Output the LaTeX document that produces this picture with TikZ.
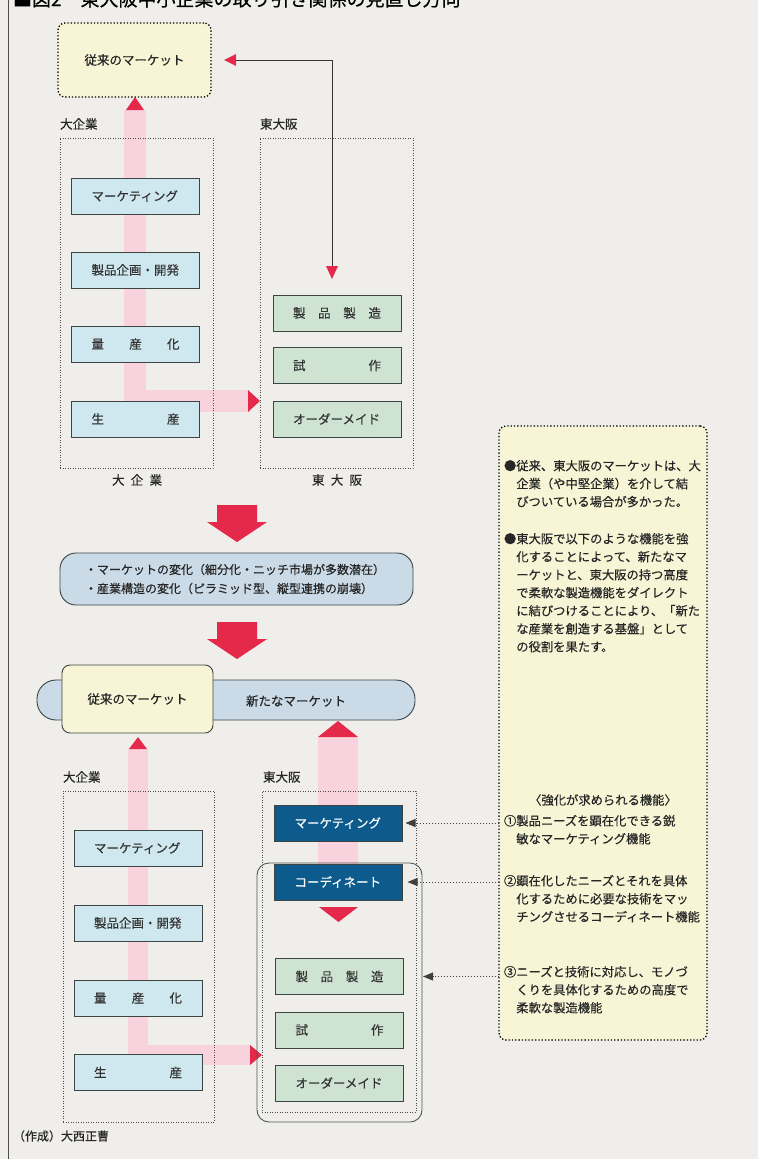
\documentclass[tikz,border=0pt]{standalone}
\usepackage{fontspec}
\setmainfont{Noto Sans CJK JP}[FakeBold=0.35]
\usetikzlibrary{arrows.meta}
\definecolor{bg}{HTML}{EFEEEA}
\definecolor{lblue}{HTML}{CFE7EE}
\definecolor{lgreen}{HTML}{CFE3D3}
\definecolor{dblue}{HTML}{0D5A8C}
\definecolor{pinkband}{HTML}{F8D2DC}
\definecolor{redtri}{HTML}{E5294A}
\definecolor{lyellow}{HTML}{F7F5D6}
\definecolor{pillblue}{HTML}{CADBE7}
\definecolor{edge}{HTML}{3C4444}
\newcommand\spr[1]{\hbox to 88pt{#1}}
\newcommand\fsz[2]{\fontsize{#1}{#2}\selectfont}
\begin{document}
\begin{tikzpicture}[x=1pt,y=-1pt,
  every node/.style={inner sep=0pt, outer sep=0pt},
  txt/.style={font=\fsz{12.5}{15}, text=black!85},
  rtxt/.style={font=\fsz{12.3}{18}, text=black!85, align=left, anchor=north west},
  fbox/.style={draw=edge, line width=0.9pt, minimum width=128pt, minimum height=36pt, font=\fsz{12.5}{15}, text=black!80},
  bluebox/.style={fbox, fill=lblue},
  greenbox/.style={fbox, fill=lgreen},
  darkbox/.style={fbox, fill=dblue, text=white},
  dotbox/.style={draw=black!70, line width=0.7pt, dash pattern=on 0.9pt off 1.6pt},
  heavydot/.style={draw=black, line width=1.3pt, dash pattern=on 1.3pt off 2pt, rounded corners=7pt},
  band/.style={draw=pinkband},
  tri/.style={fill=redtri},
  conn/.style={draw=black!80, line width=0.8pt},
  dotarrow/.style={draw=black!75, line width=0.9pt, dash pattern=on 1pt off 2pt, -{Triangle[length=10pt,width=8pt]}},
]
\useasboundingbox (0,0) rectangle (758,1159);
\fill[bg] (0,0) rectangle (758,1159);
\draw[line width=1pt, black!70] (8,0) -- (8,1159);
\begin{scope}
\clip (0,0) rectangle (758,1159);
\node[anchor=base west, font=\fsz{19}{22}] (title) at (13,6) {■図2　東大阪中小企業の取り引き関係の見直し方向};
\end{scope}

% ---------- upper part ----------
\draw[band, line width=22pt] (248,401) -| (135,110);
\fill[tri] (126,110) -- (144,110) -- (135,97) -- cycle;
\fill[tri] (248,390) -- (248,412) -- (260,401) -- cycle;

\node[heavydot, fill=lyellow, minimum width=153pt, minimum height=74pt, txt] (mktA) at (134.5,60) {従来のマーケット};
\coordinate (tA) at (236,60);
\coordinate (tB) at (332,266);
\draw[conn] (tA) -| (tB);
\fill[tri] (236,54) -- (236,66) -- (224,60) -- cycle;
\fill[tri] (326,266) -- (338,266) -- (332,279) -- cycle;

\node[txt, anchor=west] (labA1) at (60,124) {大企業};
\node[txt, anchor=west] (labA2) at (260,124) {東大阪};
\node[dotbox, minimum width=153pt, minimum height=330pt] (contA1) at (136.5,303) {};
\node[dotbox, minimum width=153pt, minimum height=330pt] (contA2) at (336.5,303) {};

\node[bluebox] (a1) at (135.5,196) {\spr{マーケティング}};
\node[bluebox] (a2) at (135.5,270) {\spr{製品企画・開発}};
\node[bluebox] (a3) at (135.5,344) {\spr{量\hfil 産\hfil 化}};
\node[bluebox] (a4) at (135.5,419) {\spr{生\hfil 産}};
\node[greenbox] (b1) at (337,313) {\spr{製\hfil 品\hfil 製\hfil 造}};
\node[greenbox] (b2) at (337,365.5) {\spr{試\hfil 作}};
\node[greenbox] (b3) at (337,419) {\spr{オーダーメイド}};

\node[txt] (capA1) at (137,480) {\hbox to 50pt{大\hfil 企\hfil 業}};
\node[txt] (capA2) at (337,480) {\hbox to 50pt{東\hfil 大\hfil 阪}};

% ---------- big arrows and change box ----------
\fill[tri] (217,505) -- (257,505) -- (257,522) -- (267,522) -- (237,542) -- (207,522) -- (217,522) -- cycle;
\node[draw=edge, line width=0.9pt, fill=pillblue, rounded corners=16pt, minimum width=353pt, minimum height=52pt,
      text width=303pt, inner xsep=25pt, align=left, font=\fsz{12}{19}, text=black!85] (change) at (236.5,579)
      {・マーケットの変化（細分化・ニッチ市場が多数潜在）\\・産業構造の変化（ピラミッド型、縦型連携の崩壊）};
\fill[tri] (217,622) -- (257,622) -- (257,639) -- (267,639) -- (237,659) -- (207,639) -- (217,639) -- cycle;

% ---------- market bar ----------
\node[draw=edge, line width=0.9pt, fill=pillblue, rounded corners=19pt, minimum width=378pt, minimum height=40pt] (pill) at (226,700) {};
\node[txt] (newmkt) at (296,701) {新たなマーケット};
\node[draw=edge, line width=0.9pt, fill=lyellow, rounded corners=8pt, minimum width=151pt, minimum height=68pt, txt] (mktB) at (137.5,699) {従来のマーケット};

% ---------- lower part ----------
\draw[band, line width=20pt] (250,1055) -| (138,749);
\fill[tri] (129,749) -- (147,749) -- (138,737) -- cycle;
\fill[tri] (250,1045) -- (250,1065) -- (262,1055) -- cycle;
\draw[band, line width=40pt] (338,737) -- (338,870);
\fill[tri] (318,737) -- (358,737) -- (338,721) -- cycle;

\node[txt, anchor=west] (labB1) at (63,777) {大企業};
\node[txt, anchor=west] (labB2) at (263,777) {東大阪};
\node[dotbox, minimum width=151pt, minimum height=331pt] (contB1) at (138.5,956.5) {};
\node[dotbox, minimum width=154pt, minimum height=321pt] (contB2) at (339,951.5) {};
\node[draw=edge!90, line width=0.9pt, rounded corners=12pt, minimum width=165pt, minimum height=259pt] (frameB) at (339.5,992.5) {};

\node[bluebox] (c1) at (138,848) {\spr{マーケティング}};
\node[bluebox] (c2) at (138,923) {\spr{製品企画・開発}};
\node[bluebox] (c3) at (138,998) {\spr{量\hfil 産\hfil 化}};
\node[bluebox] (c4) at (138,1072.5) {\spr{生\hfil 産}};

\node[darkbox] (d1) at (338.5,823) {\spr{マーケティング}};
\node[darkbox] (d2) at (338.5,882) {\spr{コーディネート}};
\fill[tri] (319,907) -- (358,907) -- (338.5,922) -- cycle;
\node[greenbox] (e1) at (339.5,976.5) {\spr{製\hfil 品\hfil 製\hfil 造}};
\node[greenbox] (e2) at (339.5,1030) {\spr{試\hfil 作}};
\node[greenbox] (e3) at (339.5,1083) {\spr{オーダーメイド}};

% ---------- right note ----------
\node[heavydot, fill=lyellow, minimum width=208pt, minimum height=614pt] (rbox) at (603,733) {};
\node[rtxt] (p1) at (504,460) {●従来、東大阪のマーケットは、大\\\hspace*{1em}企業（や中堅企業）を介して結\\\hspace*{1em}びついている場合が多かった。};
\node[rtxt] (p2) at (504,533) {●東大阪で以下のような機能を強\\\hspace*{1em}化することによって、新たなマ\\\hspace*{1em}ーケットと、東大阪の持つ高度\\\hspace*{1em}で柔軟な製造機能をダイレクト\\\hspace*{1em}に結びつけることにより、「新た\\\hspace*{1em}な産業を創造する基盤」として\\\hspace*{1em}の役割を果たす。};
\node[font=\fsz{12.3}{15}, text=black!85] (hd) at (603,800) {〈強化が求められる機能〉};
\node[rtxt] (f1) at (504,815) {①製品ニーズを顕在化できる鋭\\\hspace*{1em}敏なマーケティング機能};
\node[rtxt] (f2) at (504,875) {②顕在化したニーズとそれを具体\\\hspace*{1em}化するために必要な技術をマッ\\\hspace*{1em}チングさせるコーディネート機能};
\node[rtxt] (f3) at (504,966) {③ニーズと技術に対応し、モノづ\\\hspace*{1em}くりを具体化するための高度で\\\hspace*{1em}柔軟な製造機能};

\draw[dotarrow] (rbox.west |- d1) -- ([xshift=3pt]d1.east);
\draw[dotarrow] (rbox.west |- d2) -- ([xshift=5pt]d2.east);
\draw[dotarrow] (rbox.west |- e1) -- ([xshift=1pt]frameB.east |- e1);

\node[anchor=west, font=\fsz{12}{14}, text=black!85] (credit) at (13,1136) {（作成）大西正曹};
\end{tikzpicture}
\end{document}
